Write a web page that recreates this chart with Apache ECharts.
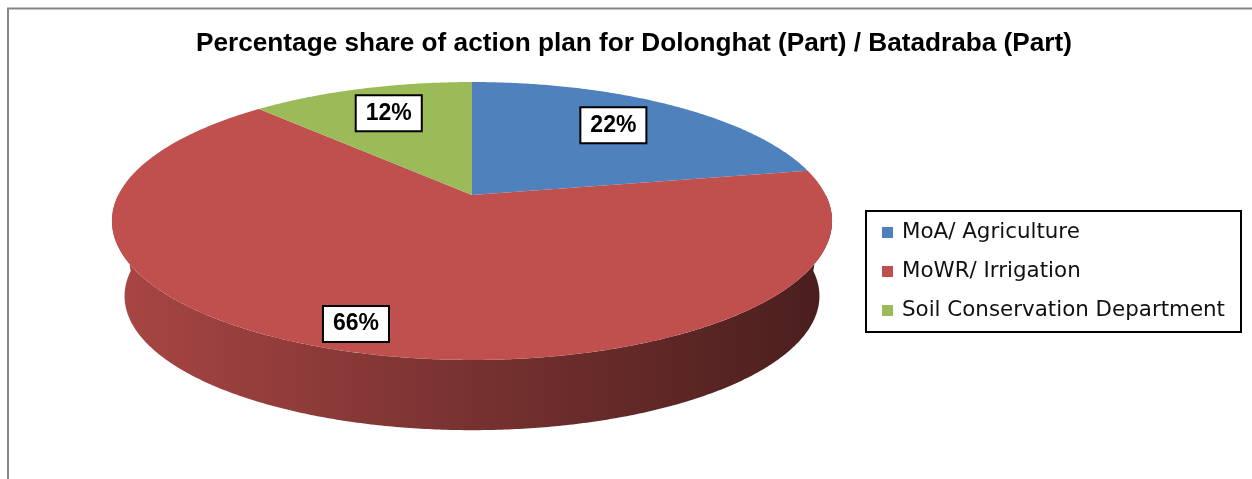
<!DOCTYPE html>
<html>
<head>
<meta charset="utf-8">
<script src="https://cdn.jsdelivr.net/npm/echarts@6/dist/echarts.min.js"></script>
<style>
  html, body { margin: 0; padding: 0; background: #fff; }
  #chart { width: 1252px; height: 479px; }
</style>
</head>
<body>
<div id="chart"></div>
<script>
// ---- data ----
const titleText = 'Percentage share of action plan for Dolonghat (Part) / Batadraba (Part)';
const categories = ['MoA/ Agriculture', 'MoWR/ Irrigation', 'Soil Conservation Department'];
const values = [22, 66, 12];

// ---- styles ----
const colors = ['#4F81BD', '#C0504D', '#9BBB59'];
const geo = { cx: 472, cy: 195, A: 353.7, B: 134.1, k: 0.187, sb: 0.965, D: 76 };

function shade(hex, f) {
  const n = parseInt(hex.slice(1), 16);
  const r = Math.round(((n >> 16) & 255) * f);
  const g = Math.round(((n >> 8) & 255) * f);
  const b = Math.round((n & 255) * f);
  return 'rgb(' + r + ',' + g + ',' + b + ')';
}

function proj(r, t, bottom) {
  const u = r * Math.sin(t), v = -r * Math.cos(t);
  const w = 1 - geo.k * v;
  const s = bottom ? geo.sb : 1;
  return [geo.cx + geo.A * u / w * s, geo.cy + geo.B * v / w * s + (bottom ? geo.D : 0)];
}

function arc(a0, a1, bottom) {
  const pts = [];
  const n = Math.max(2, Math.ceil((a1 - a0) / (Math.PI / 360)));
  for (let i = 0; i <= n; i++) pts.push(proj(1, a0 + (a1 - a0) * i / n, bottom));
  return pts;
}

const total = values.reduce((s, v) => s + v, 0);
const halfW = geo.A / Math.sqrt(1 - geo.k * geo.k);

function renderItem(params, api) {
  const idx = params.seriesIndex;
  let start = 0;
  for (let j = 0; j < idx; j++) start += values[j];
  const val = api.value(0);
  const a0 = start / total * Math.PI * 2;
  const a1 = (start + val) / total * Math.PI * 2;
  const color = colors[idx];
  const children = [];

  // front side wall (visible part only)
  const b0 = Math.max(a0, Math.PI / 2), b1 = Math.min(a1, Math.PI * 1.5);
  if (b1 > b0) {
    const top = arc(b0, b1, false);
    const bot = arc(b0, b1, true).reverse();
    children.push({
      type: 'polygon',
      z2: 1,
      shape: { points: top.concat(bot) },
      style: {
        fill: new echarts.graphic.LinearGradient(geo.cx - halfW, 0, geo.cx + halfW, 0, [
          { offset: 0, color: shade(color, 0.88) },
          { offset: 0.5, color: shade(color, 0.62) },
          { offset: 1, color: shade(color, 0.38) }
        ], true)
      }
    });
  }

  // top face
  children.push({
    type: 'polygon',
    z2: 10,
    shape: { points: [proj(0, 0, false)].concat(arc(a0, a1, false)) },
    style: { fill: color }
  });

  // data label
  const mid = (a0 + a1) / 2;
  const rl = val / total > 0.5 ? 0.88 : 0.7;
  const p = proj(rl, mid, false);
  children.push({
    type: 'text',
    z2: 20,
    x: p[0] - 2, y: p[1] - 4,
    style: {
      text: Math.round(val / total * 100) + '%',
      fill: '#000',
      fontSize: 23,
      fontWeight: 'bold',
      fontFamily: '"Liberation Sans", Arial, sans-serif',
      align: 'center',
      verticalAlign: 'middle',
      lineHeight: 24,
      backgroundColor: '#fff',
      borderColor: '#000',
      borderWidth: 2,
      padding: [5, 9]
    }
  });

  return { type: 'group', children: children };
}

const chart = echarts.init(document.getElementById('chart'), null, { renderer: 'canvas' });
chart.setOption({
  animation: false,
  backgroundColor: '#fff',
  title: {
    text: titleText,
    left: 196,
    top: 31,
    padding: 0,
    textStyle: { fontSize: 26.2, fontWeight: 'bold', color: '#000', fontFamily: '"Liberation Sans", Arial, sans-serif' }
  },
  legend: {
    orient: 'vertical',
    left: 882,
    top: 222,
    padding: 0,
    itemWidth: 11,
    itemHeight: 11,
    itemGap: 18,
    icon: 'rect',
    data: categories,
    textStyle: { fontSize: 21.4, lineHeight: 21, color: '#111', fontFamily: '"DejaVu Sans", sans-serif', padding: [0, 0, 0, 4] }
  },
  graphic: [
    { type: 'line', shape: { x1: 7, y1: 8.5, x2: 1252, y2: 8.5 }, style: { stroke: '#868686', lineWidth: 2 } },
    { type: 'line', shape: { x1: 8, y1: 8, x2: 8, y2: 479 }, style: { stroke: '#868686', lineWidth: 2 } },
    { type: 'rect', shape: { x: 866, y: 211, width: 375, height: 121 }, style: { fill: 'none', stroke: '#000', lineWidth: 2 } }
  ],
  series: categories.map((name, i) => ({
    type: 'custom',
    name: name,
    coordinateSystem: 'none',
    itemStyle: { color: colors[i] },
    renderItem: renderItem,
    data: [[values[i]]]
  }))
});
</script>
</body>
</html>
